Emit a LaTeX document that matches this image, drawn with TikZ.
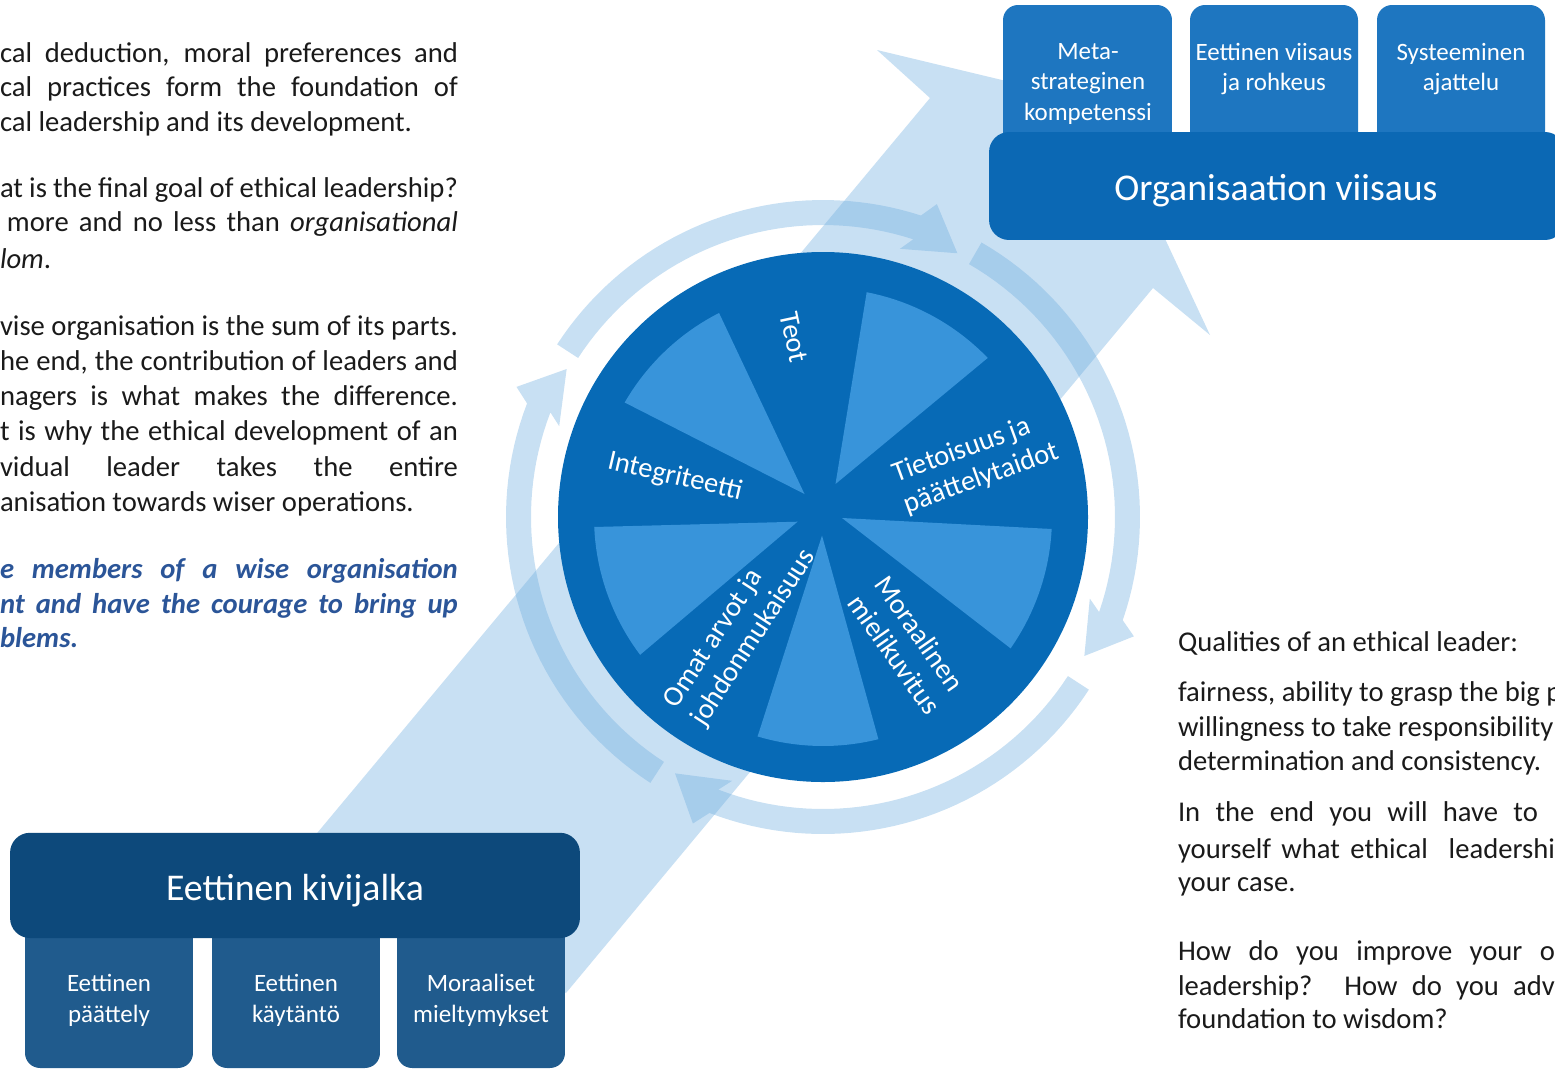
\documentclass[tikz,border=0pt]{standalone}
\usepackage{fontspec}
\setmainfont{Carlito}
\definecolor{bandc}{HTML}{6EADDF}
\definecolor{diskc}{HTML}{076AB6}
\definecolor{wedgec}{HTML}{3894DA}
\definecolor{topsmallc}{HTML}{1E76C0}
\definecolor{topbigc}{HTML}{0B68B4}
\definecolor{botbigc}{HTML}{0D497B}
\definecolor{botsmallc}{HTML}{205B8D}
\definecolor{bluetextc}{HTML}{2B5598}
\definecolor{bodytextc}{HTML}{1A1A1A}
\tikzset{
  bandfill/.style={fill=bandc, fill opacity=0.38},
  bodyl/.style={inner sep=0pt, outer sep=0pt, anchor=base west, text=bodytextc, font=\fontsize{16.3}{19.6}\selectfont},
  bluel/.style={bodyl, text=bluetextc, font=\fontsize{16.3}{19.6}\selectfont\bfseries\itshape},
  wheellab/.style={inner sep=0pt, text=white, align=left, font=\fontsize{16.2}{18.7}\selectfont},
  boxlab/.style={inner sep=0pt, text=white, align=center, font=\fontsize{14.2}{17.5}\selectfont},
  biglab/.style={inner sep=0pt, text=white, anchor=base, font=\fontsize{21.5}{25}\selectfont},
  tsbox/.style={fill=topsmallc, rounded corners=0.3cm, inner sep=0pt, minimum height=3.1cm},
  tbbox/.style={fill=topbigc, rounded corners=0.4cm, inner sep=0pt, minimum width=11.52cm, minimum height=2.16cm},
  bbbox/.style={fill=botbigc, rounded corners=0.4cm, inner sep=0pt, minimum width=11.4cm, minimum height=2.106cm},
  bsbox/.style={fill=botsmallc, rounded corners=0.3cm, inner sep=0pt, minimum width=3.36cm, minimum height=3.36cm},
}
\begin{document}
\begin{tikzpicture}[x=0.02cm,y=-0.02cm]
\useasboundingbox (0,0) rectangle (1555,1069);
\clip (0,0) rectangle (1555,1069);

% big diagonal arrow
\fill[bandfill] (303,850) -- (930,98) -- (877,50) -- (1102,104) -- (1210,335) -- (1153,288) -- (566,993) -- cycle;

% circular arrows
\foreach \ta/\tb in {123/210,213/297,300/388,393/480}{
  \pgfmathsetmacro{\tbase}{\tb-9}
  \pgfmathsetmacro{\tob}{\tb-7}
  \pgfmathsetmacro{\tib}{\tb-11}
  \fill[bandfill] plot[domain=\ta:\tbase, samples=40] ({823+317*cos(\x)},{517+317*sin(\x)})
     -- ({823+333*cos(\tob)},{517+333*sin(\tob)})
     -- ({823+296*cos(\tb)},{517+296*sin(\tb)})
     -- ({823+279*cos(\tib)},{517+279*sin(\tib)})
     -- plot[domain=\tbase:\ta, samples=40] ({823+292*cos(\x)},{517+292*sin(\x)})
     -- cycle;
}

% wheel
\fill[diskc] (823,517) circle[radius=265];
\fill[wedgec] (804.5,494) -- plot[domain=210:243, samples=20] ({823+229*cos(\x)},{517+229*sin(\x)}) -- cycle;
\fill[wedgec] (835.5,484) -- plot[domain=281:316, samples=20] ({823+229*cos(\x)},{517+229*sin(\x)}) -- cycle;
\fill[wedgec] (842,518) -- plot[domain=3:35, samples=20] ({823+229*cos(\x)},{517+229*sin(\x)}) -- cycle;
\fill[wedgec] (822,535.5) -- plot[domain=76:106.6, samples=20] ({823+229*cos(\x)},{517+229*sin(\x)}) -- cycle;
\fill[wedgec] (797.6,521.7) -- plot[domain=143:177.5, samples=20] ({823+229*cos(\x)},{517+229*sin(\x)}) -- cycle;

\node[wheellab, rotate=-78] (teot) at (794,337.5) {Teot};
\node[wheellab, rotate=-13] (integ) at (675,477) {Integriteetti};
\node[wheellab, rotate=20] (tieto) at (976,463) {Tietoisuus ja\\päättelytaidot};
\node[wheellab, rotate=-55] (moraal) at (908,645) {Moraalinen\\mielikuvitus};
\node[wheellab, rotate=57] (omat) at (740,629) {Omat arvot ja\\johdonmukaisuus};

% top boxes
\node[tsbox, minimum width=3.38cm] (meta) at (1087.5,82.5) {};
\node[tsbox, minimum width=3.36cm] (viisaus) at (1274,82.5) {};
\node[tsbox, minimum width=3.36cm] (syst) at (1461,82.5) {};
\node[tbbox] (org) at (1277,186) {};
\node[boxlab] (metal) at (1088,84) {Meta-\\strateginen\\kompetenssi};
\node[boxlab] (viisausl) at (1274,69) {Eettinen viisaus\\ja rohkeus};
\node[boxlab] (systl) at (1461,69) {Systeeminen\\ajattelu};
\node[biglab] (orgl) at (1276,200) {Organisaation viisaus};

% bottom boxes
\node[bsbox] (paat) at (109,984) {};
\node[bsbox] (kayt) at (296,984) {};
\node[bsbox] (miel) at (481,984) {};
\node[bbbox] (kivi) at (295,885.4) {};
\node[biglab] (kivil) at (295,900) {Eettinen kivijalka};
\node[boxlab] (paatl) at (109,1000) {Eettinen\\päättely};
\node[boxlab] (kaytl) at (296,1000) {Eettinen\\käytäntö};
\node[boxlab] (miell) at (481,1000) {Moraaliset\\mieltymykset};

% left text
\node[bodyl] (l1) at (0,62) {\makebox[9.16cm][s]{cal deduction, moral preferences and}};
\node[bodyl] (l2) at (0,96.5) {\makebox[9.16cm][s]{cal practices form the foundation of}};
\node[bodyl] (l3) at (0,131) {cal leadership and its development.};
\node[bodyl] (l4) at (0,197) {\makebox[9.16cm][s]{at is the final goal of ethical leadership?}};
\node[bodyl] (l5) at (7,231.5) {\makebox[9.02cm][s]{more and no less than \textit{organisational}}};
\node[bodyl] (l6) at (0,268) {\textit{lom}.};
\node[bodyl] (l7) at (0,335) {\makebox[9.16cm][s]{vise organisation is the sum of its parts.}};
\node[bodyl] (l8) at (0,370) {\makebox[9.16cm][s]{he end, the contribution of leaders and}};
\node[bodyl] (l9) at (0,405) {\makebox[9.16cm][s]{nagers is what makes the difference.}};
\node[bodyl] (l10) at (0,440) {\makebox[9.16cm][s]{t is why the ethical development of an}};
\node[bodyl] (l11) at (0,476) {\makebox[9.16cm][s]{vidual leader takes the entire}};
\node[bodyl] (l12) at (0,511.5) {anisation towards wiser operations.};
\node[bluel] (l13) at (0,578) {\makebox[9.16cm][s]{e members of a wise organisation}};
\node[bluel] (l14) at (0,613) {\makebox[9.16cm][s]{nt and have the courage to bring up}};
\node[bluel] (l15) at (0,647) {blems.};

% right text
\node[bodyl] (r1) at (1178,651.7) {Qualities of an ethical leader:};
\node[bodyl] (r2) at (1178,701.7) {fairness, ability to grasp the big p};
\node[bodyl] (r3) at (1178,736.7) {willingness to take responsibility};
\node[bodyl] (r4) at (1178,770) {determination and consistency.};
\node[bodyl] (r5) at (1178,821.7) {\makebox[7.2cm][s]{In the end you will have to}};
\node[bodyl] (r6) at (1178,858) {\makebox[7.54cm][s]{yourself what ethical\ \ leadershi}};
\node[bodyl] (r7) at (1178,891.7) {your case.};
\node[bodyl] (r8) at (1178,960) {\makebox[7.54cm][s]{How do you improve your o}};
\node[bodyl] (r9) at (1178,995) {\makebox[7.54cm][s]{leadership? How do you adv}};
\node[bodyl] (r10) at (1178,1028) {foundation to wisdom?};
\end{tikzpicture}
\end{document}
